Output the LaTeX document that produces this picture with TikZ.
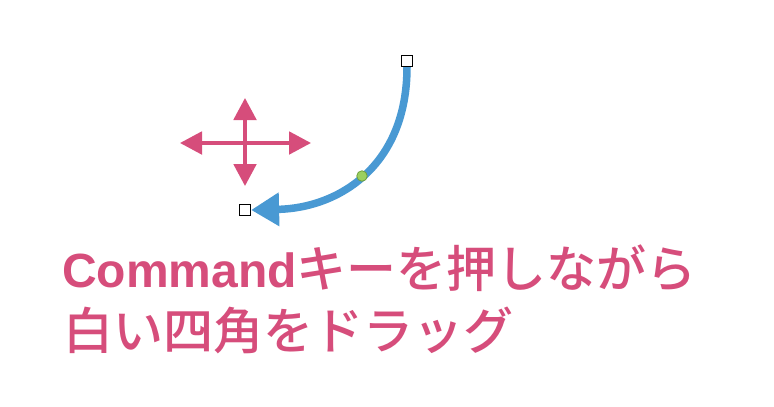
\documentclass[tikz,border=0pt]{standalone}
\usepackage{fontspec}
\setmainfont{Liberation Sans}
\newfontfamily\jp{Noto Sans CJK JP}[UprightFont=* Medium,BoldFont=* Bold]
\usetikzlibrary{arrows.meta}
\definecolor{pinkc}{RGB}{214,77,123}
\definecolor{bluec}{RGB}{73,153,211}
\definecolor{greenc}{RGB}{155,208,95}
\definecolor{greend}{RGB}{110,160,60}
\tikzset{
  handle/.style={draw=black,fill=white,line width=1.2pt,minimum size=11pt,inner sep=0pt,rectangle},
  crossarrow/.style={draw=pinkc,line width=3.6pt,{Triangle[length=22pt,width=22.5pt]}-{Triangle[length=22pt,width=22.5pt]}},
  curvearrow/.style={draw=bluec,line width=7.5pt,-{Triangle[length=28pt,width=32pt]}},
  ctrlpt/.style={circle,draw=greend,fill=greenc,line width=0.8pt,minimum size=10.5pt,inner sep=0pt},
  caption/.style={anchor=base west,inner sep=0pt,text=pinkc}
}
\begin{document}
\begin{tikzpicture}[x=1pt,y=-1pt]
\useasboundingbox (0,0) rectangle (774,407);
% move cross
\coordinate (cl) at (180,143);
\coordinate (cr) at (311,143);
\coordinate (ct) at (245,98);
\coordinate (cb) at (245,186);
\draw[crossarrow] (cl) -- (cr);
\draw[crossarrow] (ct) -- (cb);
% handles
\node[handle] (top) at (407,61) {};
\node[handle] (bot) at (245,210) {};
\draw[curvearrow] (top.south) .. controls (407,165) and (340,208) .. (bot.east);
\node[ctrlpt] (mid) at (362,176) {};
% caption
\node[caption] (l1) at (62,287) {\bfseries\fontsize{48}{48}\selectfont Command{\mdseries\jp\fontsize{50}{50}\selectfont キーを押しながら}};
\node[caption] (l2) at (63,349) {\jp\fontsize{50}{50}\selectfont 白い四角をドラッグ};
\end{tikzpicture}
\end{document}
